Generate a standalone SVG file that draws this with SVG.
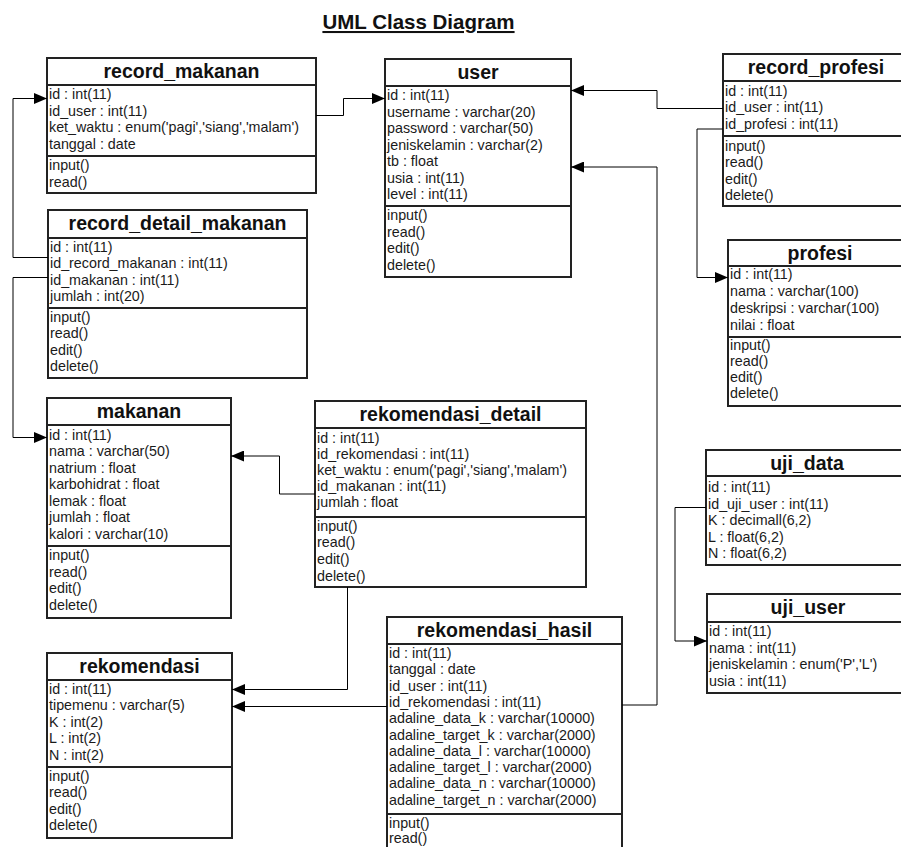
<svg xmlns="http://www.w3.org/2000/svg" width="901" height="847" viewBox="0 0 901 847">
  <defs>
    <style>
      .box{fill:#fff;stroke:#222;stroke-width:2}
      .sep{stroke:#222;stroke-width:2}
      .hdr{font-family:"Liberation Sans",Arial,sans-serif;font-weight:bold;font-size:19.5px;text-anchor:middle;fill:#111}
      .att{font-family:"Liberation Sans",Arial,sans-serif;font-size:14.3px;fill:#1a1a1a}
      .title{font-family:"Liberation Sans",Arial,sans-serif;font-weight:bold;font-size:20.5px;text-anchor:middle;fill:#111;text-decoration:underline}
      .conn{fill:none;stroke:#000;stroke-width:1;marker-end:url(#arrow)}
    </style>
    <marker id="arrow" markerUnits="userSpaceOnUse" markerWidth="13" markerHeight="11" refX="13" refY="5.5" orient="auto">
      <path d="M0,0 L13,5.5 L0,11 z" fill="#000"/>
    </marker>
  </defs>
  <rect width="901" height="847" fill="#fff"/>

  <text class="title" x="418.5" y="29">UML Class Diagram</text>

  <g id="record_makanan">
    <rect class="box" x="47" y="58" width="269" height="135"/>
    <line class="sep" x1="47" y1="85" x2="316" y2="85"/>
    <line class="sep" x1="47" y1="156" x2="316" y2="156"/>
    <text class="hdr" x="181.5" y="78">record_makanan</text>
    <g class="att">
      <text x="49" y="99">id : int(11)</text>
      <text x="49" y="115.5">id_user : int(11)</text>
      <text x="49" y="132">ket_waktu : enum('pagi','siang','malam')</text>
      <text x="49" y="148.5">tanggal : date</text>
      <text x="49" y="170">input()</text>
      <text x="49" y="186.5">read()</text>
    </g>
  </g>

  <g id="user">
    <rect class="box" x="385" y="59" width="186" height="218"/>
    <line class="sep" x1="385" y1="86" x2="571" y2="86"/>
    <line class="sep" x1="385" y1="206" x2="571" y2="206"/>
    <text class="hdr" x="478" y="79">user</text>
    <g class="att">
      <text x="387" y="100">id : int(11)</text>
      <text x="387" y="116.5">username : varchar(20)</text>
      <text x="387" y="133">password : varchar(50)</text>
      <text x="387" y="149.5">jeniskelamin : varchar(2)</text>
      <text x="387" y="166">tb : float</text>
      <text x="387" y="182.5">usia : int(11)</text>
      <text x="387" y="199">level : int(11)</text>
      <text x="387" y="220">input()</text>
      <text x="387" y="236.5">read()</text>
      <text x="387" y="253">edit()</text>
      <text x="387" y="269.5">delete()</text>
    </g>
  </g>

  <g id="record_profesi">
    <rect class="box" x="723" y="54" width="186" height="152"/>
    <line class="sep" x1="723" y1="81" x2="909" y2="81"/>
    <line class="sep" x1="723" y1="136" x2="909" y2="136"/>
    <text class="hdr" x="816" y="74">record_profesi</text>
    <g class="att">
      <text x="725" y="95.5">id : int(11)</text>
      <text x="725" y="112">id_user : int(11)</text>
      <text x="725" y="128.5">id_profesi : int(11)</text>
      <text x="725" y="150.5">input()</text>
      <text x="725" y="167">read()</text>
      <text x="725" y="183.5">edit()</text>
      <text x="725" y="200">delete()</text>
    </g>
  </g>

  <g id="profesi">
    <rect class="box" x="728" y="240" width="184" height="166"/>
    <line class="sep" x1="728" y1="266" x2="912" y2="266"/>
    <line class="sep" x1="728" y1="337" x2="912" y2="337"/>
    <text class="hdr" x="820" y="260">profesi</text>
    <g class="att">
      <text x="730" y="279">id : int(11)</text>
      <text x="730" y="296">nama : varchar(100)</text>
      <text x="730" y="313">deskripsi : varchar(100)</text>
      <text x="730" y="330">nilai : float</text>
      <text x="730" y="350">input()</text>
      <text x="730" y="366">read()</text>
      <text x="730" y="382">edit()</text>
      <text x="730" y="398">delete()</text>
    </g>
  </g>

  <g id="record_detail_makanan">
    <rect class="box" x="48" y="210" width="259" height="168"/>
    <line class="sep" x1="48" y1="238" x2="307" y2="238"/>
    <line class="sep" x1="48" y1="308" x2="307" y2="308"/>
    <text class="hdr" x="177.5" y="230">record_detail_makanan</text>
    <g class="att">
      <text x="50" y="251.5">id : int(11)</text>
      <text x="50" y="268">id_record_makanan : int(11)</text>
      <text x="50" y="284.5">id_makanan : int(11)</text>
      <text x="50" y="301">jumlah : int(20)</text>
      <text x="50" y="322">input()</text>
      <text x="50" y="338">read()</text>
      <text x="50" y="354.5">edit()</text>
      <text x="50" y="371">delete()</text>
    </g>
  </g>

  <g id="makanan">
    <rect class="box" x="47" y="398" width="184" height="220"/>
    <line class="sep" x1="47" y1="425" x2="231" y2="425"/>
    <line class="sep" x1="47" y1="546" x2="231" y2="546"/>
    <text class="hdr" x="139" y="418">makanan</text>
    <g class="att">
      <text x="49" y="439.5">id : int(11)</text>
      <text x="49" y="456">nama : varchar(50)</text>
      <text x="49" y="472.5">natrium : float</text>
      <text x="49" y="489">karbohidrat : float</text>
      <text x="49" y="505.5">lemak : float</text>
      <text x="49" y="522">jumlah : float</text>
      <text x="49" y="538.5">kalori : varchar(10)</text>
      <text x="49" y="560">input()</text>
      <text x="49" y="576.5">read()</text>
      <text x="49" y="593">edit()</text>
      <text x="49" y="609.5">delete()</text>
    </g>
  </g>

  <g id="rekomendasi_detail">
    <rect class="box" x="315" y="401" width="271" height="186"/>
    <line class="sep" x1="315" y1="428" x2="586" y2="428"/>
    <line class="sep" x1="315" y1="517" x2="586" y2="517"/>
    <text class="hdr" x="450.5" y="421">rekomendasi_detail</text>
    <g class="att">
      <text x="317" y="442.5">id : int(11)</text>
      <text x="317" y="458.5">id_rekomendasi : int(11)</text>
      <text x="317" y="474.5">ket_waktu : enum('pagi','siang','malam')</text>
      <text x="317" y="490.5">id_makanan : int(11)</text>
      <text x="317" y="506.5">jumlah : float</text>
      <text x="317" y="530.5">input()</text>
      <text x="317" y="547">read()</text>
      <text x="317" y="564">edit()</text>
      <text x="317" y="580.5">delete()</text>
    </g>
  </g>

  <g id="uji_data">
    <rect class="box" x="706" y="450" width="202" height="115"/>
    <line class="sep" x1="706" y1="476" x2="908" y2="476"/>
    <text class="hdr" x="807" y="470">uji_data</text>
    <g class="att">
      <text x="708" y="492">id : int(11)</text>
      <text x="708" y="508.5">id_uji_user : int(11)</text>
      <text x="708" y="525">K : decimall(6,2)</text>
      <text x="708" y="541.5">L : float(6,2)</text>
      <text x="708" y="558">N : float(6,2)</text>
    </g>
  </g>

  <g id="uji_user">
    <rect class="box" x="707" y="594" width="201" height="99"/>
    <line class="sep" x1="707" y1="622" x2="908" y2="622"/>
    <text class="hdr" x="808" y="614">uji_user</text>
    <g class="att">
      <text x="709" y="636">id : int(11)</text>
      <text x="709" y="652.5">nama : int(11)</text>
      <text x="709" y="669">jeniskelamin : enum('P','L')</text>
      <text x="709" y="685.5">usia : int(11)</text>
    </g>
  </g>

  <g id="rekomendasi">
    <rect class="box" x="47" y="653" width="185" height="185"/>
    <line class="sep" x1="47" y1="680" x2="232" y2="680"/>
    <line class="sep" x1="47" y1="767" x2="232" y2="767"/>
    <text class="hdr" x="139.5" y="673">rekomendasi</text>
    <g class="att">
      <text x="49" y="693.5">id : int(11)</text>
      <text x="49" y="710">tipemenu : varchar(5)</text>
      <text x="49" y="726.5">K : int(2)</text>
      <text x="49" y="743">L : int(2)</text>
      <text x="49" y="759.5">N : int(2)</text>
      <text x="49" y="780.5">input()</text>
      <text x="49" y="797">read()</text>
      <text x="49" y="813.5">edit()</text>
      <text x="49" y="830">delete()</text>
    </g>
  </g>

  <g id="rekomendasi_hasil">
    <rect class="box" x="387" y="617" width="235" height="260"/>
    <line class="sep" x1="387" y1="644" x2="622" y2="644"/>
    <line class="sep" x1="387" y1="814" x2="622" y2="814"/>
    <text class="hdr" x="504.5" y="637">rekomendasi_hasil</text>
    <g class="att">
      <text x="389" y="658">id : int(11)</text>
      <text x="389" y="674.3">tanggal : date</text>
      <text x="389" y="690.6">id_user : int(11)</text>
      <text x="389" y="706.9">id_rekomendasi : int(11)</text>
      <text x="389" y="723.2">adaline_data_k : varchar(10000)</text>
      <text x="389" y="739.5">adaline_target_k : varchar(2000)</text>
      <text x="389" y="755.8">adaline_data_l : varchar(10000)</text>
      <text x="389" y="772.1">adaline_target_l : varchar(2000)</text>
      <text x="389" y="788.4">adaline_data_n : varchar(10000)</text>
      <text x="389" y="804.7">adaline_target_n : varchar(2000)</text>
      <text x="389" y="828">input()</text>
      <text x="389" y="843">read()</text>
    </g>
  </g>

  <g id="connectors">
    <path class="conn" d="M316,115.5 H343.5 V98.5 H385"/>
    <path class="conn" d="M48,257.5 H13 V98.5 H47"/>
    <path class="conn" d="M48,277.5 H13 V437.5 H47"/>
    <path class="conn" d="M723,108.5 H657 V90.5 H571"/>
    <path class="conn" d="M723,129 H697 V277.5 H728"/>
    <path class="conn" d="M622,705 H657 V167 H571"/>
    <path class="conn" d="M387,706.5 H232"/>
    <path class="conn" d="M347.5,587 V689.5 H232"/>
    <path class="conn" d="M315,494 H279.5 V456 H231"/>
    <path class="conn" d="M706,507.5 H675 V641 H707"/>
  </g>
</svg>
